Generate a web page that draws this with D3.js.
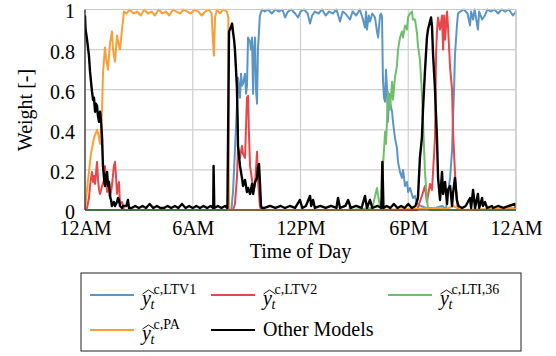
<!DOCTYPE html>
<html><head><meta charset="utf-8">
<script src="https://cdn.jsdelivr.net/npm/d3@7"></script>
<style>body{margin:0;background:#fff}svg{display:block}svg text{font-family:'Liberation Serif' !important}</style>
</head><body><svg id="c" width="556" height="356" font-family="Liberation Serif"></svg>
<script>
// ---- data: [hour of day, weight] ----
const xTicks = [0, 6, 12, 18, 24];
const xTickLabels = ["12AM", "6AM", "12PM", "6PM", "12AM"];
const yTicks = [0, 0.2, 0.4, 0.6, 0.8, 1];
const yTickLabels = ["0", "0.2", "0.4", "0.6", "0.8", "1"];

const ltv1 = [[0,0],[8.15,0],[8.24,0.09],[8.30,0.20],[8.40,0.40],[8.46,0.52],[8.52,0.66],[8.63,0.56],[8.69,0.68],[8.74,0.62],[8.80,0.63],[8.91,0.68],[8.97,0.58],[9.02,0.62],[9.08,0.86],[9.19,0.84],[9.24,0.80],[9.30,0.86],[9.36,0.58],[9.41,0.80],[9.47,0.86],[9.52,0.60],[9.58,0.53],[9.63,0.80],[9.74,0.97],[9.86,1.0],[10.0,0.99],[10.2,1.0],[10.4,0.98],[10.6,1.0],[10.8,0.99],[11.0,1.0],[11.14,0.96],[11.3,0.99],[11.5,1.0],[11.7,0.98],[11.86,0.96],[12.0,0.99],[12.2,1.0],[12.4,0.98],[12.53,0.93],[12.65,0.97],[12.8,0.99],[13.0,0.98],[13.2,1.0],[13.4,0.97],[13.6,0.99],[13.8,0.98],[14.0,1.0],[14.2,0.94],[14.35,0.99],[14.5,0.98],[14.76,0.95],[14.9,0.99],[15.1,0.97],[15.3,1.0],[15.45,0.96],[15.59,0.91],[15.65,0.99],[15.70,0.90],[15.8,0.97],[15.87,0.94],[16.0,0.98],[16.15,0.96],[16.26,0.89],[16.32,0.86],[16.43,0.97],[16.49,0.98],[16.54,0.96],[16.59,0.65],[16.65,0.56],[16.71,0.54],[16.76,0.70],[16.82,0.60],[16.87,0.44],[16.93,0.58],[16.98,0.54],[17.10,0.49],[17.15,0.44],[17.26,0.36],[17.37,0.31],[17.43,0.24],[17.54,0.19],[17.65,0.16],[17.71,0.20],[17.82,0.12],[17.93,0.14],[17.99,0.09],[18.10,0.11],[18.26,0.06],[18.38,0.07],[18.49,0.03],[18.7,0.02],[19.0,0.01],[19.5,0.01],[19.9,0.02],[20.1,0.0],[20.16,0.05],[20.33,0.16],[20.44,0.30],[20.49,0.45],[20.55,0.60],[20.60,0.77],[20.71,0.92],[20.77,0.98],[20.9,0.99],[21.1,1.0],[21.3,0.98],[21.44,0.92],[21.5,0.99],[21.61,0.95],[21.7,1.0],[21.88,0.90],[21.95,0.99],[22.11,0.95],[22.27,0.97],[22.4,1.0],[22.6,0.99],[22.8,1.0],[23.0,0.98],[23.2,1.0],[23.4,0.99],[23.6,1.0],[23.83,0.97],[24,0.99]];

const ltv2 = [[0,0],[0.11,0.01],[0.22,0.06],[0.28,0.12],[0.39,0.19],[0.45,0.14],[0.50,0.17],[0.56,0.13],[0.67,0.24],[0.72,0.16],[0.78,0.10],[0.84,0.08],[0.95,0.12],[1.06,0.15],[1.11,0.22],[1.17,0.14],[1.23,0.09],[1.34,0.13],[1.39,0.06],[1.50,0.12],[1.61,0.22],[1.67,0.24],[1.72,0.18],[1.78,0.08],[1.89,0.14],[1.95,0.03],[2.06,0.04],[2.17,0.0],[8.24,0],[8.35,0.03],[8.46,0.16],[8.52,0.31],[8.63,0.26],[8.74,0.32],[8.80,0.28],[8.91,0.26],[9.02,0.56],[9.08,0.57],[9.13,0.38],[9.19,0.22],[9.30,0.15],[9.36,0.09],[9.47,0.13],[9.58,0.29],[9.63,0.15],[9.74,0.02],[9.8,0],[18.5,0],[18.6,0.03],[18.76,0.07],[18.93,0.12],[19.04,0.04],[19.21,0.13],[19.32,0.10],[19.38,0.19],[19.49,0.36],[19.55,0.78],[19.60,0.89],[19.66,0.96],[19.77,0.90],[19.88,0.97],[19.94,0.80],[20.0,0.97],[20.05,0.85],[20.16,0.99],[20.21,0.92],[20.33,0.71],[20.44,0.60],[20.49,0.40],[20.60,0.19],[20.71,0.04],[20.77,0.0],[24,0]];

const lti36 = [[0,0],[14.7,0],[14.76,0.02],[14.85,0],[16.0,0.01],[16.1,0.05],[16.26,0.11],[16.32,0.07],[16.43,0.02],[16.54,0.05],[16.59,0.22],[16.65,0.30],[16.71,0.39],[16.76,0.33],[16.82,0.45],[16.87,0.59],[16.98,0.50],[17.10,0.64],[17.15,0.55],[17.26,0.66],[17.37,0.72],[17.43,0.80],[17.54,0.86],[17.65,0.89],[17.71,0.86],[17.82,0.92],[17.93,0.90],[17.99,0.96],[18.10,0.98],[18.21,0.99],[18.26,0.95],[18.38,0.95],[18.49,0.88],[18.54,0.82],[18.65,0.75],[18.76,0.59],[18.82,0.45],[18.93,0.19],[19.04,0.06],[19.10,0.01],[19.2,0],[24,0]];

const pa = [[0,0],[0.17,0.15],[0.33,0.28],[0.50,0.36],[0.67,0.40],[0.78,0.36],[0.84,0.33],[0.95,0.50],[1.0,0.68],[1.11,0.81],[1.17,0.76],[1.28,0.70],[1.39,0.83],[1.50,0.89],[1.56,0.80],[1.67,0.74],[1.78,0.87],[1.84,0.84],[1.95,0.80],[2.06,0.90],[2.17,0.99],[2.3,0.98],[2.5,1.0],[2.7,0.98],[2.9,0.99],[3.1,0.97],[3.3,1.0],[3.5,0.98],[3.7,0.99],[3.9,0.97],[4.1,1.0],[4.3,0.98],[4.5,0.99],[4.7,0.97],[4.9,1.0],[5.1,0.99],[5.3,0.98],[5.5,1.0],[5.7,0.99],[5.9,0.98],[6.1,1.0],[6.3,0.99],[6.5,0.97],[6.7,0.99],[6.9,1.0],[7.05,0.98],[7.12,0.85],[7.18,0.77],[7.24,0.96],[7.35,1.0],[7.5,0.98],[7.7,1.0],[7.9,0.99],[7.98,0.96],[8.02,0.0],[9.8,0],[16.5,0],[19.9,0.01],[20.0,0],[20.5,0.02],[21,0],[24,0.01]];

const other = [[0,0.97],[0.03,0.90],[0.1,0.86],[0.22,0.77],[0.28,0.69],[0.39,0.59],[0.45,0.55],[0.50,0.56],[0.56,0.49],[0.61,0.53],[0.67,0.52],[0.72,0.47],[0.78,0.44],[0.84,0.49],[0.90,0.44],[0.95,0.36],[1.0,0.22],[1.06,0.16],[1.11,0.12],[1.17,0.17],[1.23,0.19],[1.28,0.12],[1.34,0.14],[1.39,0.07],[1.45,0.05],[1.50,0.02],[1.56,0.03],[1.61,0.04],[1.67,0.02],[1.78,0.04],[1.84,0.06],[1.89,0.05],[1.95,0.02],[2.06,0.01],[2.12,0.02],[2.3,0.02],[2.39,0.05],[2.45,0.01],[2.6,0.01],[2.8,0.02],[3.0,0.01],[3.2,0.02],[3.4,0.01],[3.6,0.03],[3.8,0.01],[4.0,0.02],[4.2,0.01],[4.4,0.01],[4.6,0.02],[4.8,0.01],[5.0,0.02],[5.2,0.01],[5.4,0.03],[5.6,0.01],[5.8,0.02],[6.0,0.01],[6.2,0.02],[6.4,0.01],[6.6,0.02],[6.8,0.01],[7.0,0.02],[7.14,0.01],[7.16,0.22],[7.20,0.01],[7.4,0.02],[7.6,0.01],[7.8,0.02],[7.93,0.01],[7.96,0.3],[8.02,0.89],[8.07,0.90],[8.19,0.93],[8.24,0.89],[8.30,0.85],[8.35,0.80],[8.46,0.61],[8.50,0.44],[8.52,0.32],[8.63,0.22],[8.74,0.16],[8.80,0.12],[8.91,0.15],[9.02,0.09],[9.08,0.11],[9.19,0.08],[9.30,0.13],[9.36,0.08],[9.47,0.14],[9.58,0.16],[9.63,0.21],[9.69,0.23],[9.74,0.14],[9.80,0.02],[9.86,0.01],[10.0,0.01],[10.3,0.02],[10.6,0.01],[10.9,0.02],[11.14,0.01],[11.4,0.02],[11.7,0.01],[11.97,0.05],[12.1,0.01],[12.3,0.02],[12.53,0.07],[12.6,0.02],[12.70,0.05],[12.8,0.01],[13.1,0.02],[13.4,0.01],[13.7,0.02],[14.0,0.01],[14.09,0.06],[14.2,0.01],[14.5,0.02],[14.65,0.05],[14.8,0.01],[15.1,0.02],[15.4,0.01],[15.59,0.07],[15.70,0.01],[15.87,0.05],[16.0,0.01],[16.3,0.02],[16.5,0.01],[16.56,0.24],[16.62,0.01],[16.8,0.02],[17.0,0.01],[17.2,0.03],[17.4,0.01],[17.6,0.02],[17.8,0.01],[18.0,0.03],[18.2,0.01],[18.4,0.02],[18.54,0.06],[18.65,0.26],[18.76,0.36],[18.82,0.50],[18.93,0.69],[19.04,0.86],[19.10,0.90],[19.21,0.94],[19.27,0.96],[19.32,0.92],[19.38,0.78],[19.49,0.60],[19.60,0.36],[19.66,0.16],[19.77,0.05],[19.88,0.19],[19.94,0.08],[20.05,0.14],[20.16,0.03],[20.21,0.10],[20.33,0.12],[20.44,0.02],[20.49,0.08],[20.60,0.16],[20.71,0.05],[20.8,0.02],[21.0,0.01],[21.2,0.02],[21.44,0.06],[21.5,0.01],[21.61,0.10],[21.72,0.01],[21.88,0.08],[21.95,0.01],[22.11,0.06],[22.16,0.02],[22.27,0.04],[22.39,0.01],[22.66,0.02],[22.72,0.01],[23.0,0.02],[23.3,0.01],[23.6,0.02],[23.94,0.03],[24,0.01]];

const seriesNames = ["LTV1", "LTV2", "LTI,36", "PA", "Other Models"];
const seriesColors = ["#5b95c5", "#e8464a", "#6fbf6a", "#fa9f36", "#000000"];
const seriesData = [ltv1, ltv2, lti36, pa, other];

// ---- drawing ----
const FONT = "Liberation Serif";
const svg = d3.select("#c");
const L = 85, R = 516, T = 9.5, B = 210;
const x = d3.scaleLinear().domain([0, 24]).range([L, R]);
const y = d3.scaleLinear().domain([0, 1]).range([B, T]);

const g = svg.append("g");
g.selectAll(".vg").data(xTicks).join("line")
  .attr("x1", d => x(d)).attr("x2", d => x(d)).attr("y1", T).attr("y2", B)
  .attr("stroke", "#cfcfcf").attr("stroke-width", 1.2);
g.selectAll(".hg").data(yTicks).join("line")
  .attr("x1", L).attr("x2", R).attr("y1", d => y(d)).attr("y2", d => y(d))
  .attr("stroke", "#cfcfcf").attr("stroke-width", 1.2);

svg.append("defs").append("clipPath").attr("id", "clip")
  .append("rect").attr("x", L).attr("y", T - 2).attr("width", R - L).attr("height", B - T + 3);

const line = d3.line().x(d => x(d[0])).y(d => y(d[1]));
const lines = svg.append("g").attr("clip-path", "url(#clip)");
seriesData.forEach((s, i) => {
  lines.append("path").datum(s).attr("d", line)
    .attr("fill", "none").attr("stroke", seriesColors[i])
    .attr("stroke-width", i === 4 ? 2.4 : 2).attr("stroke-linejoin", "round");
});

// axes
const xAxis = d3.axisBottom(x).tickValues(xTicks).tickFormat((d, i) => xTickLabels[i]).tickSize(0).tickPadding(11);
const yAxis = d3.axisLeft(y).tickValues(yTicks).tickFormat((d, i) => yTickLabels[i]).tickSize(0).tickPadding(10);
const ax = svg.append("g").attr("transform", `translate(0,${B})`).call(xAxis);
const ay = svg.append("g").attr("transform", `translate(${L},0)`).call(yAxis);
[ax, ay].forEach(a => {
  a.attr("font-family", FONT).attr("font-size", 20);
  a.select(".domain").remove();
  a.selectAll("text").attr("font-family", FONT).attr("font-size", 20).attr("fill", "#000");
});
ay.selectAll("text").attr("dy", "0.42em");
svg.append("line").attr("x1", L).attr("x2", R).attr("y1", T).attr("y2", T).attr("stroke", "#c8c8c8").attr("stroke-width", 1.2);
svg.append("line").attr("x1", R).attr("x2", R).attr("y1", T).attr("y2", B).attr("stroke", "#c8c8c8").attr("stroke-width", 1.2);
svg.append("line").attr("x1", L).attr("x2", L).attr("y1", T).attr("y2", B).attr("stroke", "#222").attr("stroke-width", 1.2);
svg.append("line").attr("x1", L).attr("x2", R).attr("y1", B).attr("y2", B).attr("stroke", "#222").attr("stroke-width", 1.2);

function txt(parent, xx, yy, size, s, italic) {
  const t = parent.append("text").attr("x", xx).attr("y", yy)
    .attr("font-family", FONT).attr("font-size", size).attr("fill", "#000").text(s);
  if (italic) t.attr("font-style", "italic");
  return t;
}

txt(svg, (L + R) / 2, 258, 20, "Time of Day").attr("text-anchor", "middle");
txt(svg, 0, 0, 20, "Weight [-]").attr("text-anchor", "middle").attr("transform", "translate(32,110) rotate(-90)");

const lg = svg.append("g");
lg.append("rect").attr("x", 81).attr("y", 273).attr("width", 440).attr("height", 78)
  .attr("fill", "#fff").attr("stroke", "#222").attr("stroke-width", 1);
const legendPos = [[90, 295], [211, 295], [388, 295], [90, 330], [211, 330]];
seriesData.forEach((s, i) => {
  const [lx, ly] = legendPos[i];
  lg.append("line").attr("x1", lx).attr("x2", lx + 44).attr("y1", ly).attr("y2", ly)
    .attr("stroke", seriesColors[i]).attr("stroke-width", 2);
  const tx = lx + 52;
  if (i === 4) {
    txt(lg, tx, ly + 6, 20, seriesNames[i]);
  } else {
    txt(lg, tx, ly + 10, 20, "y", true);
    lg.append("path").attr("d", `M${tx + 0.5},${ly - 1} L${tx + 6.5},${ly - 5} L${tx + 12.5},${ly - 1}`)
      .attr("fill", "none").attr("stroke", "#000").attr("stroke-width", 0.9);
    txt(lg, tx + 8.5, ly + 14, 14, "t", true);
    txt(lg, tx + 11.5, ly - 1, 14, "c," + seriesNames[i]);
  }
});
</script></body></html>
